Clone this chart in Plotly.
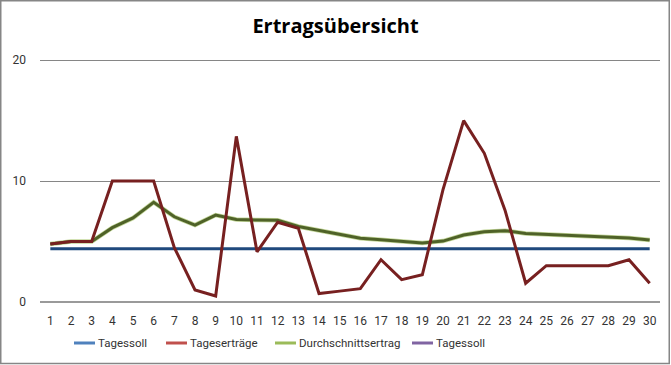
import plotly.graph_objects as go

days = list(range(1, 31))
tagessoll = [4.4] * 30
tagesertraege = [4.8, 5.0, 5.0, 10.0, 10.0, 10.0, 4.5, 1.0, 0.5, 13.7,
                 4.15, 6.6, 6.1, 0.7, 0.9, 1.1, 3.5, 1.85, 2.25, 9.3,
                 15.0, 12.3, 7.6, 1.55, 3.0, 3.0, 3.0, 3.0, 3.5, 1.55]
durchschnitt = [4.8, 5.0, 5.0, 6.15, 6.95, 8.25, 7.05, 6.36, 7.19, 6.83,
                6.78, 6.76, 6.25, 5.92, 5.55, 5.27, 5.15, 5.0, 4.88, 5.04,
                5.54, 5.81, 5.9, 5.67, 5.6, 5.48, 5.45, 5.34, 5.29, 5.12]
x_labels = [str(d) for d in days]

legend_names = ["Tagessoll", "Tageserträge", "Durchschnittsertrag", "Tagessoll"]
legend_colors = ["#4F81BD", "#C0504D", "#9BBB59", "#8064A2"]

FONT = "Roboto, Open Sans, sans-serif"
W, H = 671, 365
ML, MR, MT, MB = 40, 11, 59, 63
PW, PH = W - ML - MR, H - MT - MB


def px_x(px):
    return (px - ML) / PW


def px_y(py):
    return (H - MB - py) / PH


fig = go.Figure()
fig.add_trace(go.Scatter(x=x_labels, y=tagessoll, mode="lines", name="Tagessoll",
                         line=dict(color="#1F497D", width=3), showlegend=False))
fig.add_trace(go.Scatter(x=x_labels, y=durchschnitt, mode="lines", name="Durchschnittsertrag",
                         line=dict(color="#C4D79B", width=4.5), showlegend=False,
                         hoverinfo="skip"))
fig.add_trace(go.Scatter(x=x_labels, y=durchschnitt, mode="lines", name="Durchschnittsertrag",
                         line=dict(color="#4F6228", width=3), showlegend=False))
fig.add_trace(go.Scatter(x=x_labels, y=tagesertraege, mode="lines", name="Tageserträge",
                         line=dict(color="#772020", width=3), showlegend=False))

# manual legend (Excel style: short line sample + label)
legend_starts = [74, 166, 275, 412]
legend_y = 343
shapes = [dict(type="rect", xref="paper", yref="paper",
               x0=px_x(0.75), x1=px_x(669.25), y0=px_y(363.5), y1=px_y(0.75),
               line=dict(color="#868686", width=1.5), layer="below")]
annotations = []
for name, col, sx in zip(legend_names, legend_colors, legend_starts):
    shapes.append(dict(type="line", xref="paper", yref="paper",
                       x0=px_x(sx), x1=px_x(sx + 21), y0=px_y(legend_y), y1=px_y(legend_y),
                       line=dict(color=col, width=3)))
    annotations.append(dict(text=name, xref="paper", yref="paper",
                            x=px_x(sx + 22), y=px_y(legend_y), xanchor="left",
                            yanchor="middle", showarrow=False,
                            font=dict(family=FONT, size=11.5, color="#333333")))

fig.update_layout(
    width=W, height=H,
    margin=dict(l=ML, r=MR, t=MT, b=MB, autoexpand=False),
    paper_bgcolor="white", plot_bgcolor="white",
    showlegend=False,
    title=dict(text="<b>Ertragsübersicht</b>", x=0.5, xanchor="center",
               y=1 - 26 / H, yanchor="middle",
               font=dict(family="Open Sans", size=20, color="#000000")),
    font=dict(family=FONT, size=12, color="#333333"),
    xaxis=dict(type="category", range=[-0.5, 29.5], showgrid=False,
               showline=False, ticks="", ticklabelstandoff=10,
               tickfont=dict(family=FONT, size=12, color="#333333")),
    yaxis=dict(range=[0, 20.1], tickvals=[0, 10, 20], showgrid=True,
               gridcolor="#868686", gridwidth=1, zeroline=True,
               zerolinecolor="#9A9A9A", zerolinewidth=2, showline=False,
               ticks="", ticklabelstandoff=13,
               tickfont=dict(family=FONT, size=12, color="#333333")),
    shapes=shapes,
    annotations=annotations,
)

fig.write_html("out.html", config={"displayModeBar": False},
               post_script="document.body.style.margin='0px';")
